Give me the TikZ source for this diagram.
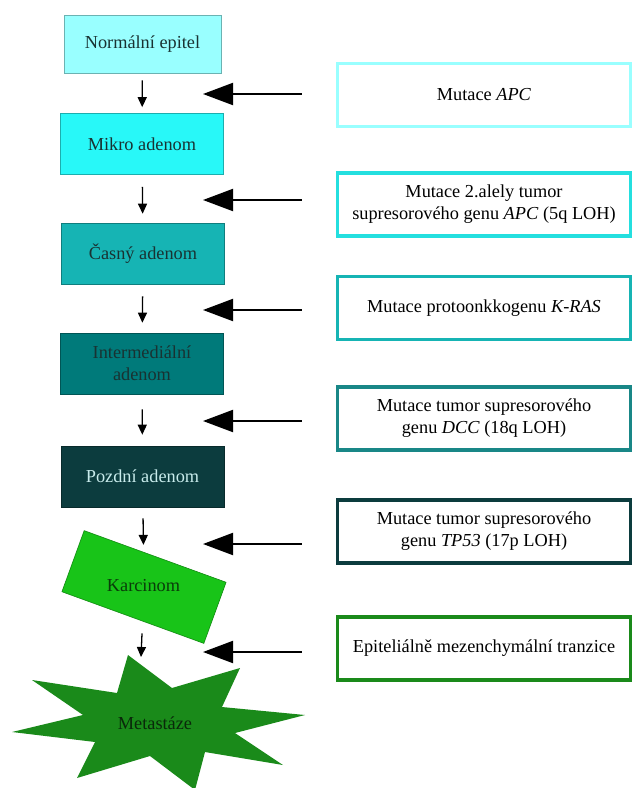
\documentclass[tikz,border=0pt]{standalone}
\usepackage{fontspec}
\setmainfont{Liberation Serif}
\usetikzlibrary{arrows.meta, calc, shapes.geometric}

\definecolor{epi}{RGB}{153,255,255}
\definecolor{mikro}{RGB}{40,248,248}
\definecolor{casny}{RGB}{22,180,180}
\definecolor{inter}{RGB}{0,122,122}
\definecolor{pozdni}{RGB}{12,60,62}
\definecolor{karc}{RGB}{24,196,24}
\definecolor{meta}{RGB}{26,138,26}
\definecolor{ink}{RGB}{25,50,50}

\begin{document}
\begin{tikzpicture}[x=1pt, y=-1pt, font=\fontsize{18.3}{22}\selectfont,
	stage/.style={draw=#1!70!black, line width=0.6pt, fill=#1, text=ink, minimum width=163, minimum height=61, align=center, inner sep=1pt},
	mutbox/.style={draw=#1, line width=3.5pt, fill=white, minimum width=293, minimum height=63, align=center, inner sep=1pt},
	flow/.style={-{Triangle[length=10pt,width=9pt]}, line width=1.3pt},
	mut/.style={-{Triangle[length=30pt,width=22pt]}, line width=2pt, shorten <=34pt}]
	\useasboundingbox (0,0) rectangle (634,788);
	
	\node[stage=epi, minimum width=157, minimum height=58] (n1) at (142.5,44) {Normální epitel};
	\node[stage=mikro] (n2) at (142,144) {Mikro adenom};
	\node[stage=casny] (n3) at (143,253.5) {Časný adenom};
	\node[stage=inter] (n4) at (142,363.5) {Intermediální\\adenom};
	\node[stage=pozdni, text={rgb,255:red,200;green,235;blue,235}] (n5) at (142.5,476.5) {Pozdní adenom};
	\node[stage=karc, rotate=-20, minimum width=151, minimum height=65] (k) at (144,587) {};
	\node[text={rgb,255:red,10;green,60;blue,10}] (n6) at (143.5,586) {Karcinom};
	
	\fill[meta] (128,655) -- (172,688) -- (240,668) -- (222,707) -- (305,715) -- (235,733) -- (283,765) -- (205,752) -- (195,790) -- (150,756) -- (77,778) -- (95,742) -- (12,732) -- (83,715) -- (32,680) -- (117,693) -- cycle;
	\node[text={rgb,255:red,10;green,40;blue,10}] (n7) at (155,723) {Metastáze};
	\coordinate (mtop) at (141,657);
	
	\foreach \a/\b/\s/\e in {n1/n2/7/6, n2/n3/12/9, n3/n4/12/10, n4/n5/15/11, n5/k/11/7, k/mtop/12/0} {
		\draw[flow, shorten <=\s pt, shorten >=\e pt]	(\a) -- (\b);
	}
	
	\node[mutbox=epi] (r1) at (484,95) {Mutace \textit{APC}};
	\node[mutbox=mikro!90!black] (r2) at (484,204.5) {Mutace 2.alely tumor\\supresorového genu \textit{APC} (5q LOH)};
	\node[mutbox=casny] (r3) at (484,308) {Mutace protoonkkogenu \textit{K-RAS}};
	\node[mutbox=inter!90!white] (r4) at (484,418.5) {Mutace tumor supresorového\\genu \textit{DCC} (18q LOH)};
	\node[mutbox=pozdni] (r5) at (484,531.5) {Mutace tumor supresorového\\genu \textit{TP53} (17p LOH)};
	\node[mutbox=meta] (r6) at (484,648.5) {Epiteliálně mezenchymální tranzice};
	
	\foreach \i/\y in {1/94, 2/200, 3/310, 4/421, 5/544, 6/652} {
		\coordinate (t\i) at (203,\y);
		\draw[mut]	(t\i -| r\i.west) -- (t\i);
	}
\end{tikzpicture}
\end{document}
